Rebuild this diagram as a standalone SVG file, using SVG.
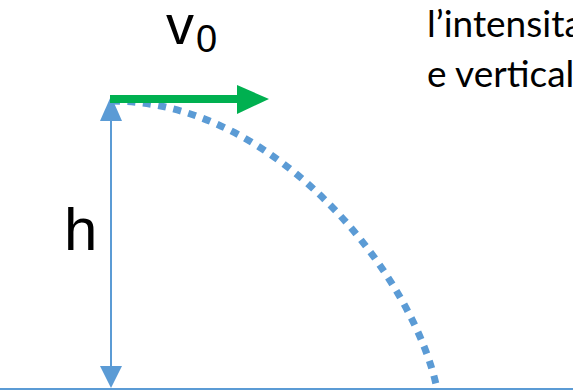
<svg xmlns="http://www.w3.org/2000/svg" width="573" height="392" viewBox="0 0 573 392">
<style>
.blue{fill:#5B9BD5}
.bl{stroke:#5B9BD5;stroke-width:2;fill:none}
.lbl{font-family:"Liberation Sans",Arial,sans-serif;fill:#000}
.txt{font-family:Lato,"Liberation Sans",sans-serif;fill:#000;font-size:37px}
</style>
<rect width="573" height="392" fill="#fff"/>
<g id="connectors">
<line class="bl" x1="0" y1="389" x2="573" y2="389"/>
<line class="bl" x1="111" y1="110" x2="111" y2="375"/>
<polygon class="blue" points="111,96 122,121 100,121"/>
<polygon class="blue" points="111,388 122,366 100,366"/>
<path d="M112,101 C280,101 415,280 437,389" fill="none" stroke="#5B9BD5" stroke-width="7" stroke-dasharray="8 7.5"/>
<rect x="110" y="95" width="128" height="8" fill="#00B050"/>
<polygon points="237,85 269,99 237,114" fill="#00B050"/>
</g>
<g id="v0">
<text class="lbl" x="166" y="44" font-size="56">v<tspan font-size="38" dx="2" dy="8">0</tspan></text>
</g>
<g id="h">
<text class="lbl" x="64" y="250" font-size="60">h</text>
</g>
<g id="text">
<text class="txt" x="427" y="37">l’intensita</text>
<text class="txt" x="427" y="87">e vertical</text>
</g>
</svg>
